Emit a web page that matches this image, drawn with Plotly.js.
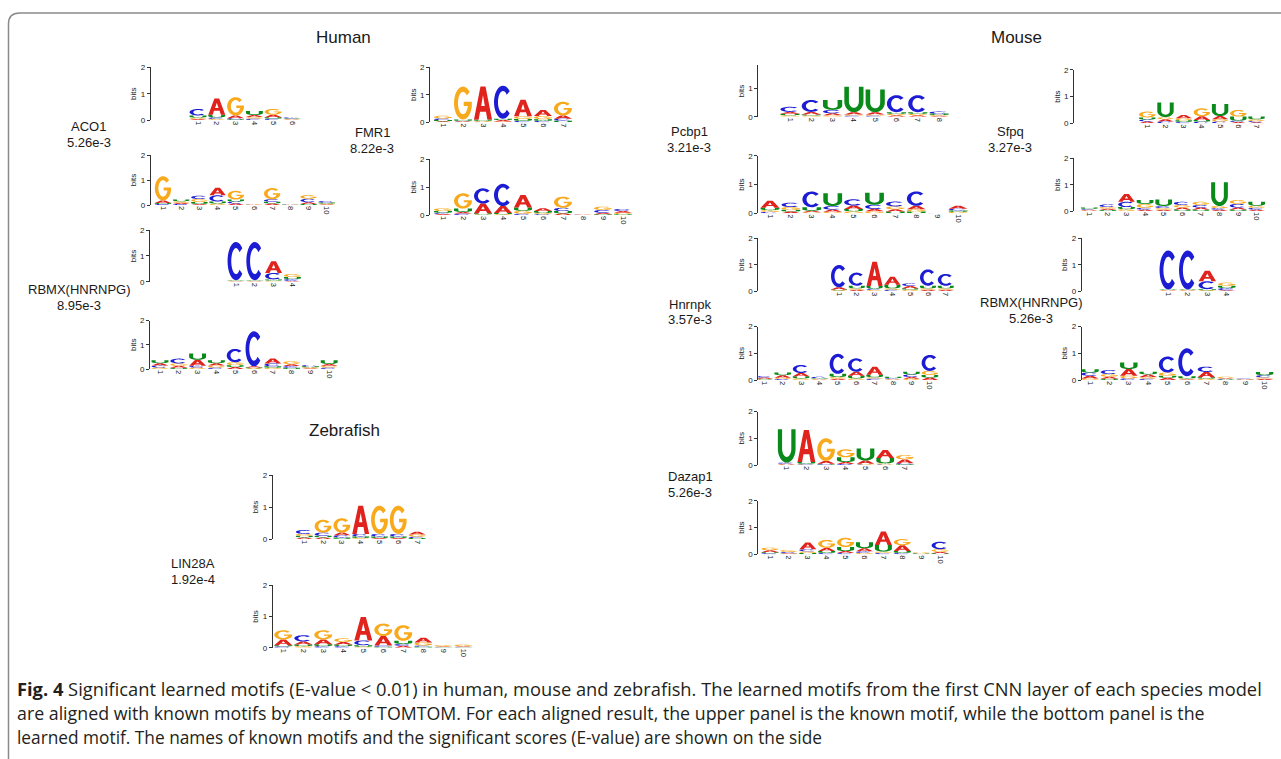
<!DOCTYPE html>
<html><head><meta charset="utf-8">
<script src="https://cdn.plot.ly/plotly-3.0.1.min.js"></script>
<style>html,body{margin:0;padding:0;background:#fff;}#chart{width:1281px;height:759px;}</style>
</head><body><div id="chart"></div>
<script>
// ---------- DATA: information content (bits) per letter per position ----------
const ACO1_known   = {A:[0.04,0.62,0.10,0.08,0.10,0.02], C:[0.25,0.06,0.04,0.05,0.05,0.04], G:[0.05,0.04,0.70,0.06,0.22,0.02], U:[0.08,0.10,0.03,0.15,0.05,0.02]};
const ACO1_learned = {A:[0.10,0.05,0.04,0.30,0.06,0.01,0.06,0.01,0.07,0.03], C:[0.04,0.04,0.13,0.25,0.08,0.01,0.10,0.01,0.14,0.06], G:[0.97,0.06,0.12,0.06,0.35,0.01,0.45,0.00,0.15,0.03], U:[0.04,0.07,0.08,0.08,0.08,0.00,0.07,0.01,0.04,0.04]};
const hRBMX_known   = {A:[0.02,0.02,0.45,0.03], C:[1.48,1.48,0.25,0.07], G:[0.02,0.02,0.04,0.12], U:[0.02,0.02,0.05,0.08]};
const hRBMX_learned = {A:[0.10,0.08,0.25,0.10,0.08,0.05,0.20,0.08,0.03,0.08], C:[0.08,0.20,0.07,0.06,0.55,1.45,0.12,0.07,0.05,0.06], G:[0.06,0.10,0.06,0.08,0.12,0.03,0.05,0.12,0.04,0.07], U:[0.12,0.05,0.26,0.12,0.08,0.03,0.06,0.05,0.04,0.15]};
const FMR1_known   = {A:[0.04,0.03,1.20,0.05,0.60,0.22,0.12], C:[0.06,0.02,0.02,1.20,0.05,0.05,0.07], G:[0.10,1.20,0.03,0.03,0.10,0.12,0.50], U:[0.04,0.05,0.05,0.05,0.07,0.06,0.06]};
const FMR1_learned = {A:[0.04,0.06,0.35,0.25,0.45,0.10,0.06,0.01,0.05,0.06], C:[0.04,0.05,0.55,0.80,0.05,0.03,0.12,0.01,0.10,0.08], G:[0.10,0.55,0.02,0.03,0.10,0.04,0.40,0.01,0.12,0.05], U:[0.06,0.12,0.04,0.04,0.12,0.07,0.08,0.00,0.03,0.03]};
const LIN28A_known   = {A:[0.05,0.05,0.08,0.88,0.03,0.03,0.09], C:[0.12,0.10,0.07,0.08,0.08,0.08,0.04], G:[0.06,0.40,0.45,0.03,0.88,0.88,0.07], U:[0.05,0.05,0.05,0.05,0.05,0.05,0.03]};
const LIN28A_learned = {A:[0.18,0.10,0.15,0.08,0.75,0.30,0.06,0.15,0.02,0.03], C:[0.04,0.20,0.05,0.05,0.15,0.04,0.06,0.04,0.01,0.01], G:[0.30,0.05,0.30,0.12,0.03,0.40,0.50,0.10,0.04,0.05], U:[0.04,0.05,0.06,0.05,0.05,0.03,0.10,0.03,0.01,0.01]};
const Pcbp1_known   = {A:[0.07,0.09,0.07,0.08,0.08,0.05,0.05,0.03], C:[0.18,0.42,0.12,0.04,0.04,0.60,0.60,0.07], G:[0.05,0.04,0.05,0.04,0.04,0.05,0.05,0.03], U:[0.05,0.04,0.35,0.90,0.80,0.06,0.06,0.05]};
const Pcbp1_learned = {A:[0.25,0.06,0.05,0.08,0.12,0.08,0.08,0.12,0.00,0.10], C:[0.05,0.15,0.55,0.12,0.22,0.15,0.17,0.50,0.01,0.06], G:[0.06,0.10,0.04,0.05,0.07,0.07,0.10,0.08,0.00,0.05], U:[0.08,0.06,0.12,0.45,0.08,0.42,0.06,0.06,0.00,0.05]};
const Sfpq_known   = {A:[0.07,0.08,0.12,0.14,0.12,0.05,0.04], C:[0.07,0.07,0.05,0.06,0.07,0.05,0.04], G:[0.22,0.08,0.08,0.30,0.08,0.25,0.07], U:[0.08,0.55,0.06,0.06,0.45,0.15,0.10]};
const Sfpq_learned = {A:[0.03,0.05,0.30,0.05,0.05,0.07,0.07,0.05,0.07,0.05], C:[0.03,0.10,0.20,0.07,0.08,0.12,0.10,0.06,0.14,0.07], G:[0.02,0.06,0.07,0.15,0.06,0.10,0.12,0.08,0.15,0.08], U:[0.05,0.04,0.08,0.15,0.25,0.06,0.06,0.90,0.06,0.15]};
const Hnrnpk_known   = {A:[0.08,0.05,0.92,0.30,0.09,0.05,0.05], C:[0.85,0.50,0.05,0.05,0.10,0.62,0.45], G:[0.03,0.05,0.04,0.05,0.05,0.05,0.05], U:[0.03,0.10,0.10,0.14,0.05,0.10,0.10]};
const Hnrnpk_learned = {A:[0.04,0.10,0.12,0.02,0.05,0.15,0.30,0.02,0.06,0.09], C:[0.06,0.04,0.30,0.05,0.75,0.50,0.05,0.03,0.10,0.60], G:[0.02,0.04,0.06,0.02,0.06,0.06,0.05,0.02,0.05,0.15], U:[0.03,0.10,0.08,0.03,0.12,0.10,0.10,0.05,0.10,0.10]};
const mRBMX_known   = {A:[0.02,0.02,0.40,0.03], C:[1.48,1.48,0.30,0.08], G:[0.02,0.02,0.03,0.12], U:[0.02,0.02,0.04,0.09]};
const mRBMX_learned = {A:[0.10,0.07,0.25,0.10,0.08,0.03,0.20,0.03,0.02,0.05], C:[0.12,0.15,0.06,0.05,0.60,1.05,0.20,0.02,0.02,0.08], G:[0.06,0.10,0.10,0.06,0.12,0.03,0.05,0.05,0.01,0.05], U:[0.12,0.05,0.25,0.10,0.08,0.08,0.05,0.02,0.01,0.12]};
const Dazap1_known   = {A:[0.03,1.20,0.10,0.07,0.12,0.30,0.14], C:[0.04,0.03,0.03,0.04,0.02,0.02,0.04], G:[0.02,0.02,0.85,0.30,0.03,0.04,0.16], U:[1.25,0.06,0.02,0.18,0.45,0.20,0.03]};
const Dazap1_learned = {A:[0.07,0.03,0.25,0.12,0.07,0.12,0.50,0.22,0.01,0.05], C:[0.04,0.04,0.08,0.05,0.05,0.06,0.05,0.05,0.01,0.28], G:[0.10,0.07,0.06,0.30,0.35,0.05,0.05,0.23,0.03,0.10], U:[0.04,0.02,0.05,0.07,0.15,0.22,0.25,0.07,0.02,0.04]};

const speciesTitles = ["Human", "Mouse", "Zebrafish"];
const motifNames  = ["ACO1", "FMR1", "RBMX(HNRNPG)", "LIN28A", "Pcbp1", "Sfpq", "Hnrnpk", "RBMX(HNRNPG)", "Dazap1"];
const motifEvalues = ["5.26e-3", "8.22e-3", "8.95e-3", "1.92e-4", "3.21e-3", "3.27e-3", "3.57e-3", "5.26e-3", "5.26e-3"];
const yTickVals = [0, 1, 2];
const LETTERS = ["A", "C", "G", "U"];

// ---------- LAYOUT GEOMETRY (pixels) ----------
const W = 1281, H = 759;
const px = v => v / W, py = v => 1 - v / H;
const COLORS = {A:"#e0231c", C:"#1c1cd4", G:"#f8a91c", U:"#0a8a1a"};

// ax: y-axis line x, p1: x of position 1, dx: px per position, y0: baseline y, bp: px per bit
const panels = [
  {d:ACO1_known,    ax:150.7, p1:198,   dx:18.8, y0:120,   bp:26.3, ymax:2},
  {d:ACO1_learned,  ax:150.7, p1:163,   dx:18.2, y0:205,   bp:25.0, ymax:2},
  {d:hRBMX_known,   ax:150,   p1:236,   dx:18.8, y0:281.7, bp:25.8, ymax:2},
  {d:hRBMX_learned, ax:150,   p1:160,   dx:18.8, y0:369,   bp:24.2, ymax:2},
  {d:FMR1_known,    ax:430,   p1:443,   dx:20.0, y0:122.3, bp:27.5, ymax:2},
  {d:FMR1_learned,  ax:430,   p1:443,   dx:20.0, y0:215,   bp:27.8, ymax:2},
  {d:LIN28A_known,  ax:272.7, p1:304.3, dx:18.8, y0:539,   bp:32.0, ymax:2},
  {d:LIN28A_learned,ax:272.7, p1:283.3, dx:20.0, y0:647.7, bp:31.3, ymax:2},
  {d:Pcbp1_known,   ax:758.3, p1:790,   dx:21.3, y0:116.7, bp:28.3, ymax:1.82},
  {d:Pcbp1_learned, ax:758.3, p1:770,   dx:20.9, y0:213.3, bp:28.7, ymax:2},
  {d:Sfpq_known,    ax:1074,  p1:1147.3,dx:18.2, y0:123.3, bp:26.7, ymax:2},
  {d:Sfpq_learned,  ax:1074,  p1:1089.3,dx:18.6, y0:211,   bp:26.3, ymax:2},
  {d:Hnrnpk_known,  ax:758.3, p1:839,   dx:17.8, y0:291,   bp:26.3, ymax:2},
  {d:Hnrnpk_learned,ax:758.3, p1:764.3, dx:18.4, y0:380,   bp:26.7, ymax:2},
  {d:mRBMX_known,   ax:1081.7,p1:1168.3,dx:19.5, y0:291,   bp:26.3, ymax:2},
  {d:mRBMX_learned, ax:1081.7,p1:1090,  dx:19.4, y0:380,   bp:26.7, ymax:2},
  {d:Dazap1_known,  ax:758.3, p1:786.7, dx:19.7, y0:465,   bp:26.7, ymax:2},
  {d:Dazap1_learned,ax:758.3, p1:770,   dx:18.9, y0:554.3, bp:26.7, ymax:2}
];

// ---------- GLYPHS in unit box (u right, v up) ----------
function arc(cx, cy, rx, ry, a0, a1, n) {
  const pts = [];
  for (let i = 0; i <= n; i++) {
    const a = (a0 + (a1 - a0) * i / n) * Math.PI / 180;
    pts.push([cx + rx * Math.cos(a), cy + ry * Math.sin(a)]);
  }
  return pts;
}
const irx = 0.28, iry = 0.34;
const GLYPHS = {
  A: [[[0,0],[0.36,1],[0.64,1],[1,0],[0.74,0],[0.665,0.24],[0.335,0.24],[0.26,0]],
      [[0.40,0.41],[0.60,0.41],[0.5,0.74]]],
  C: [arc(0.5,0.5,0.5,0.5,42,318,28).concat(arc(0.5,0.5,irx,iry,318,42,28))],
  G: (function(){
       const outer = arc(0.5,0.5,0.5,0.5,42,345,28);
       const yb = 0.41;
       const th = 360 + Math.asin((yb-0.5)/iry)*180/Math.PI;
       const inner = arc(0.5,0.5,irx,iry,th,42,28);
       return [outer.concat([[0.99,0.37],[0.99,0.54],[0.54,0.54],[0.54,yb]]).concat(inner)];
     })(),
  U: [[[0,1],[0,0.42]].concat(arc(0.5,0.42,0.5,0.42,180,360,20))
       .concat([[1,1],[0.76,1]])
       .concat(arc(0.5,0.42,0.26,0.25,360,180,20))
       .concat([[0.24,1]])]
};

function glyphPath(L, xc, base, h, lw) {
  return GLYPHS[L].map(poly =>
    poly.map((p, i) => (i ? "L" : "M") + (xc + (p[0] - 0.5) * lw).toFixed(4) + "," + (base + p[1] * h).toFixed(5)).join("") + "Z"
  ).join("");
}

// ---------- BUILD ----------
const data = [], shapes = [], annotations = [];
const layout = {
  width: W, height: H, margin: {l:0, r:0, t:0, b:0, pad:0},
  paper_bgcolor: "#fff", plot_bgcolor: "rgba(0,0,0,0)",
  showlegend: false, font: {family: "Liberation Sans, Arial, sans-serif", color: "#222"}
};

panels.forEach((p, i) => {
  const k = i + 1;
  const n = p.d.A.length;
  const lastPx = p.p1 + (n - 1) * p.dx + 0.6 * p.dx;
  const wpx = lastPx - p.ax;
  const x0 = 1 - (p.p1 - p.ax) / p.dx;
  const xr = [x0, x0 + wpx / p.dx];
  const pos = Array.from({length: n}, (_, j) => j + 1);
  layout["xaxis" + k] = {
    domain: [px(p.ax), px(lastPx)], range: xr, anchor: "y" + k,
    showgrid: false, zeroline: false, showline: false, ticks: "",
    tickmode: "array", tickvals: pos, ticktext: pos.map(String), tickangle: 90,
    tickfont: {size: 7.5, color: "#222"}, fixedrange: true
  };
  layout["yaxis" + k] = {
    domain: [py(p.y0), py(p.y0 - p.ymax * p.bp)], range: [0, p.ymax], anchor: "x" + k,
    showgrid: false, zeroline: false, showline: true, linecolor: "#333", linewidth: 1,
    ticks: "outside", ticklen: 3, tickwidth: 1, tickcolor: "#333",
    tickmode: "array", tickvals: yTickVals.filter(v => v <= p.ymax),
    tickfont: {size: 8, color: "#222"},
    title: {text: "bits", font: {size: 8, color: "#222"}, standoff: 2}, fixedrange: true
  };
  data.push({type: "scatter", mode: "markers", x: pos, y: pos.map(() => 0),
    marker: {opacity: 0, size: 1}, hoverinfo: "skip", xaxis: "x" + k, yaxis: "y" + k});
  for (let j = 0; j < n; j++) {
    const stack = LETTERS.map(L => ({L, h: p.d[L][j]})).filter(o => o.h > 0.004).sort((a, b) => a.h - b.h);
    let base = 0;
    stack.forEach(o => {
      shapes.push({type: "path", xref: "x" + k, yref: "y" + k, layer: "above",
        path: glyphPath(o.L, j + 1, base, o.h, 0.9),
        fillcolor: COLORS[o.L], line: {width: 0}});
      base += o.h;
    });
  }
});

// border (rounded top-left frame)
shapes.push({type: "path", xref: "paper", yref: "paper", layer: "below",
  path: `M${px(8.5)},${py(770)}L${px(8.5)},${py(24)}Q${px(8.5)},${py(13)} ${px(19.5)},${py(13)}L${px(1295)},${py(13)}`,
  line: {color: "#8a8a8a", width: 1.5}, fillcolor: "rgba(0,0,0,0)"});

function ann(text, x, y, size, extra) {
  annotations.push(Object.assign({text, x: px(x), y: py(y), xref: "paper", yref: "paper",
    showarrow: false, xanchor: "center", yanchor: "middle",
    font: {size, color: "#1a1a1a", family: "Liberation Sans, Arial, sans-serif"}}, extra || {}));
}
ann(speciesTitles[0], 343, 38, 17);
ann(speciesTitles[1], 1016, 38, 17);
ann(speciesTitles[2], 344, 430, 17);

const labelPos = [[89,126,142],[372,132,148],[79,290,305],[193,563,579],[689,131,147],[1010,131,147],[690,304,320],[1031,302,318],[690,476,492]];
labelPos.forEach((lp, i) => {
  ann(motifNames[i], lp[0], lp[1], 13);
  ann(motifEvalues[i], lp[0], lp[2], 13);
});

const capLines = [
  "<b>Fig. 4</b> Significant learned motifs (E-value &lt; 0.01) in human, mouse and zebrafish. The learned motifs from the first CNN layer of each species model",
  "are aligned with known motifs by means of TOMTOM. For each aligned result, the upper panel is the known motif, while the bottom panel is the",
  "learned motif. The names of known motifs and the significant scores (E-value) are shown on the side"
];
const capSizes = [18.3, 17.8, 17.3];
[688, 713, 737].forEach((y, i) => ann(capLines[i], 15, y, capSizes[i],
  {xanchor: "left", font: {size: capSizes[i], color: "#231f20", family: "Open Sans, Lato, sans-serif"}}));

layout.shapes = shapes;
layout.annotations = annotations;
Plotly.newPlot("chart", data, layout, {staticPlot: true, displayModeBar: false});
</script></body></html>
